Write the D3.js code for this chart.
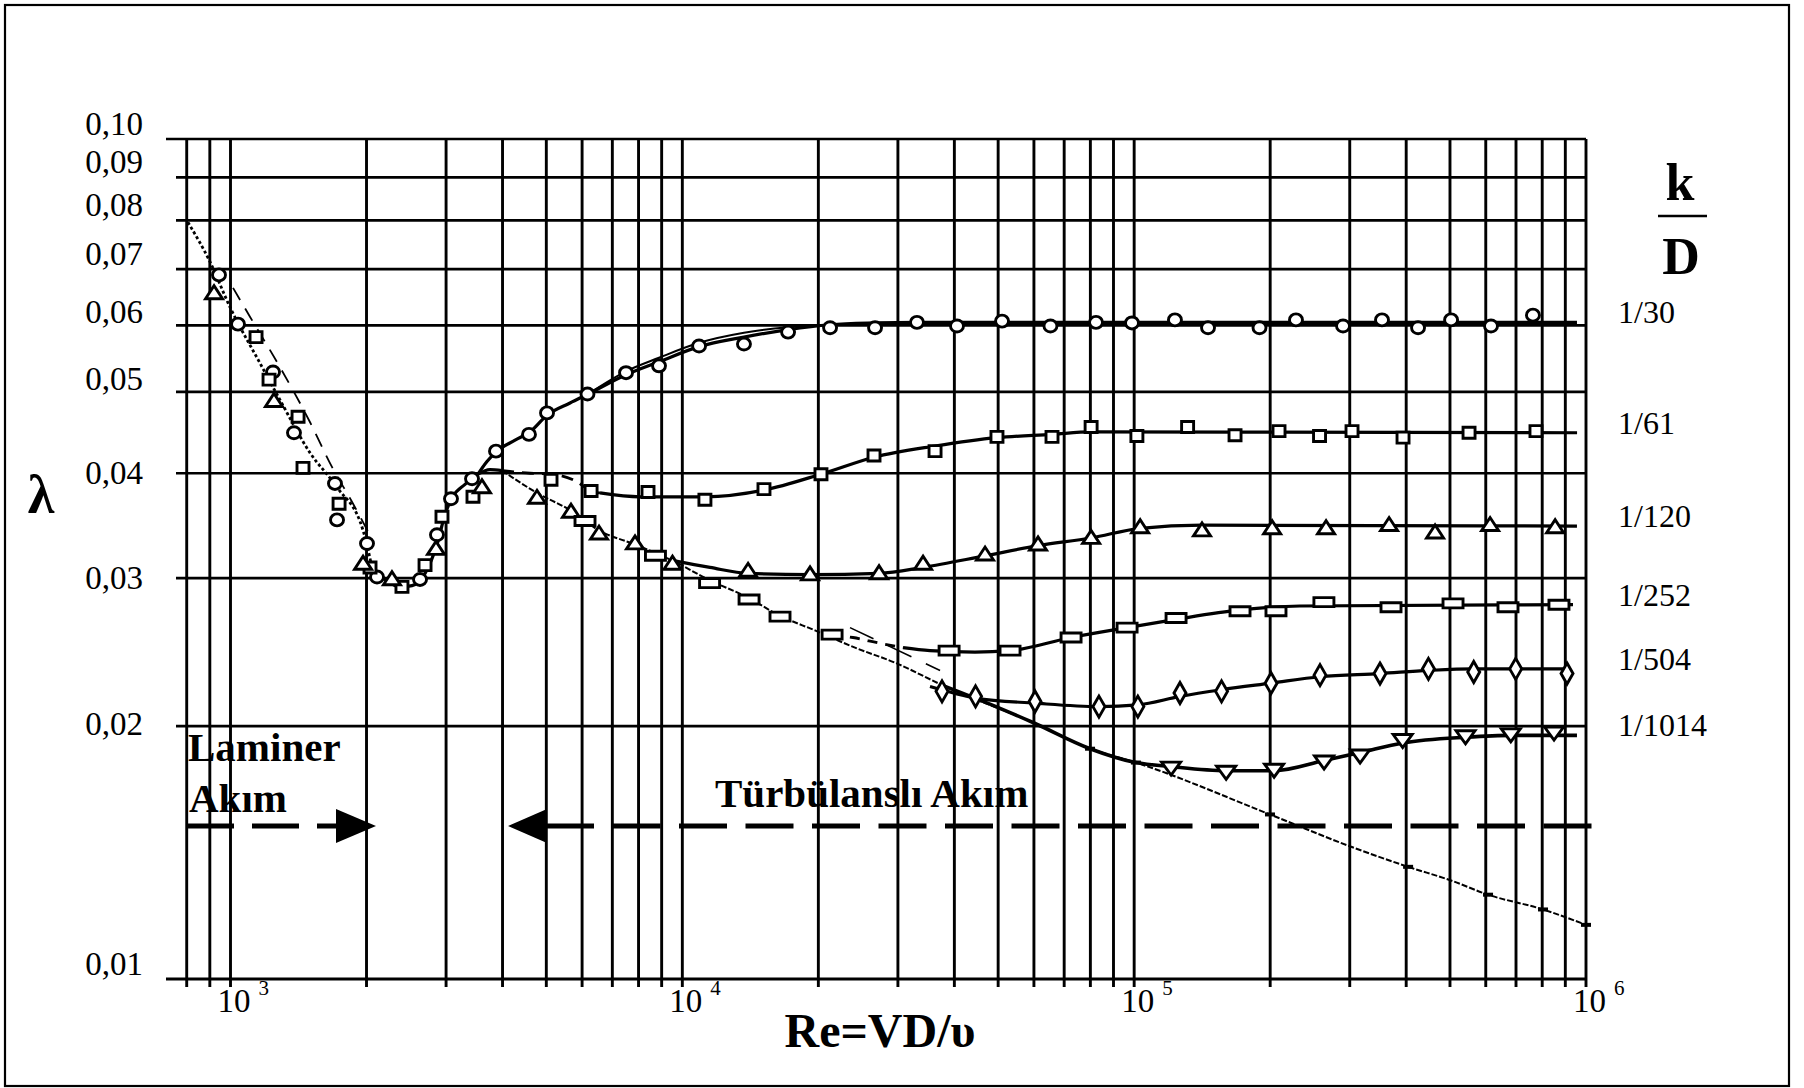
<!DOCTYPE html>
<html>
<head>
<meta charset="utf-8">
<script src="https://cdn.jsdelivr.net/npm/d3@7/dist/d3.min.js"></script>
<style>
  html, body { margin: 0; padding: 0; background: #fff; }
  svg { display: block; font-family: "Liberation Serif", "Times New Roman", serif; }
</style>
</head>
<body>
<svg id="chart" width="1804" height="1088"></svg>
<script>
// ---- data: [Re, lambda] ----
const yTickValues = [0.01, 0.02, 0.03, 0.04, 0.05, 0.06, 0.07, 0.08, 0.09, 0.10];
const yTickLabels = ["0,01", "0,02", "0,03", "0,04", "0,05", "0,06", "0,07", "0,08", "0,09", "0,10"];
const xTickValues = [1e3, 1e4, 1e5, 1e6];
const xTickExp = ["3", "4", "5", "6"];
const seriesNames = ["1/30", "1/61", "1/120", "1/252", "1/504", "1/1014"];

// laminar lines
const lamDotted = [[805,0.0796],[901,0.0714],[997,0.0631],[1162,0.0541],[1287,0.0489],[1500,0.0423],[1721,0.0385],[1965,0.0342],[2057,0.0309]];
const lamDashed = [[1013,0.0665],[1105,0.0614],[1287,0.0535],[1500,0.0460],[1677,0.0407],[1857,0.0370],[2015,0.0341]];
// transition (critical zone)
const transition = [[2057,0.0309],[2198,0.0299],[2372,0.0293],[2522,0.0294],[2695,0.0304],[2864,0.0329],[2983,0.0357],[3092,0.0374],[3304,0.0388],[3530,0.0399],[3752,0.0404],[3990,0.0403]];
// smooth pipe line
const smooth = [[3990,0.0403],[4768,0.0379],[5670,0.0361],[6540,0.0342],[7858,0.0329],[9490,0.0315],[11400,0.0299],[14050,0.0284],[16370,0.0271],[19660,0.0260],[24110,0.0248],[29560,0.0238],[38140,0.0223],[59720,0.0202],[79860,0.0188],[100900,0.0181],[199800,0.0157],[299000,0.0144],[403900,0.0136],[502800,0.0131],[607000,0.0126],[803300,0.0121],[1000000,0.0116]];
const smoothTicks = [[79860,0.0188],[100900,0.0181],[199800,0.0157],[403900,0.0136],[607000,0.0126],[803300,0.0121],[1000000,0.0116]];
const thinDash = [[23500,0.0262],[37190,0.0233]];

// k/D = 1/30
const curve30 = [[3530,0.0399],[3695,0.0413],[3889,0.0425],[4264,0.0438],[4601,0.0448],[5018,0.0469],[5642,0.0485],[6183,0.0497],[7506,0.0524],[8879,0.0543],[10890,0.0566],[13690,0.0581],[17140,0.0593],[21230,0.0601],[26700,0.0604],[33060,0.0605],[50480,0.0605],[955000,0.0605]];
const curve30b = [[6183,0.0497],[7506,0.0529],[8879,0.0549],[10890,0.0572],[13690,0.0588],[17140,0.0597],[21230,0.0601]];
const marks30 = [[943,0.0689],[1039,0.0602],[1242,0.0528],[1382,0.0447],[1703,0.0389],[1721,0.0352],[2005,0.0330],[2110,0.0301],[2627,0.0299],[2864,0.0338],[3076,0.0373],[3424,0.0394],[3869,0.0425],[4577,0.0445],[5018,0.0472],[6167,0.0497],[7506,0.0527],[8879,0.0537],[10890,0.0567],[13690,0.0570],[17140,0.0589],[21230,0.0596],[26700,0.0596],[33060,0.0605],[40540,0.0599],[51000,0.0607],[65270,0.0599],[82330,0.0605],[98900,0.0604],[123100,0.0609],[145700,0.0596],[189400,0.0596],[228100,0.0609],[289900,0.0599],[353600,0.0609],[424900,0.0596],[502800,0.0609],[616200,0.0599],[763100,0.0617]];

// k/D = 1/61
const curve61Dash = [[3990,0.0403],[4601,0.0400],[5148,0.0399],[5786,0.0392],[6281,0.0381],[6574,0.0379]];
const curve61 = [[6574,0.0379],[8058,0.0375],[11220,0.0375],[15160,0.0382],[20270,0.0399],[26560,0.0418],[36250,0.0431],[49700,0.0441],[65790,0.0445],[80300,0.0448],[955500,0.0447]];
const marks61 = [[1139,0.0581],[1217,0.0517],[1411,0.0467],[1447,0.0406],[1739,0.0368],[2036,0.0309],[2396,0.0293],[2695,0.0311],[2938,0.0355],[3441,0.0375],[5121,0.0393],[6281,0.0381],[8395,0.0380],[11220,0.0372],[15160,0.0383],[20270,0.0399],[26560,0.0420],[36250,0.0425],[49700,0.0442],[65790,0.0442],[80300,0.0454],[101400,0.0443],[131300,0.0454],[167200,0.0444],[209200,0.0449],[257200,0.0443],[303500,0.0449],[393600,0.0441],[551000,0.0447],[775000,0.0449]];

// k/D = 1/120
const curve120 = [[9490,0.0315],[11510,0.0309],[13980,0.0304],[19170,0.0303],[27250,0.0304],[34100,0.0309],[46770,0.0319],[61270,0.0328],[80300,0.0335],[103100,0.0344],[141300,0.0347],[955000,0.0346]];
const marks120 = [[919.5,0.0657],[1248,0.0489],[1965,0.0313],[2277,0.0300],[2850,0.0326],[3602,0.0386],[4768,0.0375],[5670,0.0361],[6540,0.0340],[7858,0.0331],[9511,0.0313],[13980,0.0307],[19170,0.0304],[27250,0.0305],[34100,0.0313],[46770,0.0321],[61270,0.0330],[80300,0.0336],[103100,0.0346],[141300,0.0343],[202000,0.0345],[265900,0.0345],[366600,0.0348],[463400,0.0341],[613400,0.0348],[854400,0.0346]];

// k/D = 1/252
const curve252Dash = [[21450,0.0257],[23860,0.0255],[27380,0.0251],[30790,0.0248]];
const curve252 = [[30790,0.0248],[35330,0.0246],[44430,0.0245],[53120,0.0246],[72500,0.0255],[96450,0.0262],[123800,0.0268],[171500,0.0275],[232600,0.0278],[935900,0.0279]];
const marks252 = [[6090,0.0351],[8720,0.0319],[11490,0.0296],[14050,0.0283],[16450,0.0270],[21450,0.0257],[38940,0.0246],[53120,0.0246],[72500,0.0255],[96450,0.0262],[123800,0.0269],[171500,0.0274],[206000,0.0274],[263000,0.0281],[370200,0.0277],[507800,0.0280],[672000,0.0277],[871300,0.0279]];

// k/D = 1/504
const curve504 = [[35330,0.0223],[44670,0.0216],[60330,0.0213],[83570,0.0211],[101900,0.0212],[126300,0.0217],[156200,0.0221],[200900,0.0225],[257800,0.0229],[350000,0.0231],[448000,0.0233],[564300,0.0234],[921700,0.0234]];
const marks504 = [[37560,0.0220],[44560,0.0217],[60330,0.0214],[83570,0.0211],[101900,0.0211],[126300,0.0219],[156100,0.0220],[200900,0.0225],[257800,0.0230],[350000,0.0231],[448000,0.0234],[564300,0.0232],[698900,0.0234],[907800,0.0231]];

// k/D = 1/1014
const curve1014 = [[38140,0.0223],[50480,0.0210],[59720,0.0202],[79860,0.0188],[100900,0.0181],[120700,0.0179],[159800,0.0177],[204000,0.0177],[263200,0.0182],[316200,0.0186],[393900,0.0191],[542000,0.0194],[683000,0.0195],[955000,0.0195]];
const marks1014 = [[120700,0.0178],[159800,0.0176],[204000,0.0177],[263200,0.0181],[316200,0.0184],[392900,0.0192],[541200,0.0194],[681700,0.0195],[849700,0.0196]];

// ---- layout ----
const svg = d3.select("#chart");
const plotL = 166, plotR = 1586, plotT = 139, plotB = 979;
const x = d3.scaleLog().domain([1000, 1e6]).range([230.5, 1586]);
const y = d3.scaleLog().domain([0.01, 0.1]).range([plotB, plotT]);
x.domain([x.invert(plotL), 1e6]).range([plotL, plotR]);

// frame
svg.append("rect")
  .attr("x", 5).attr("y", 5).attr("width", 1784).attr("height", 1081)
  .attr("fill", "none").attr("stroke", "#000").attr("stroke-width", 2.2);

// grid
const grid = svg.append("g").attr("stroke", "#000").attr("stroke-width", 2.9);
grid.selectAll("line.v")
  .data(x.ticks().filter(d => d >= 800))
  .enter().append("line")
  .attr("x1", d => x(d)).attr("x2", d => x(d))
  .attr("y1", plotT).attr("y2", plotB + 8);

grid.selectAll("line.h")
  .data(yTickValues)
  .enter().append("line")
  .attr("x1", d => (d === 0.01 || d === 0.1) ? plotL : plotL + 10)
  .attr("x2", plotR)
  .attr("y1", d => y(d)).attr("y2", d => y(d))
  .attr("stroke-width", d => d === 0.01 ? 3.2 : 2.7);

// y labels
const yLabelShift = { "0,06": -2, "0,05": -2, "0,04": 11, "0,03": 11, "0,02": 9 };
svg.append("g").selectAll("text")
  .data(yTickValues)
  .enter().append("text")
  .attr("x", 143)
  .attr("y", (d, i) => y(d) + (yLabelShift[yTickLabels[i]] !== undefined ? yLabelShift[yTickLabels[i]] : -4))
  .attr("text-anchor", "end")
  .attr("font-size", 33)
  .text((d, i) => yTickLabels[i]);

// x labels 10^n
const xl = svg.append("g").selectAll("text")
  .data(xTickValues)
  .enter().append("text")
  .attr("x", d => x(d) - 13)
  .attr("y", 1012)
  .attr("font-size", 33);
xl.append("tspan").text("10");
xl.append("tspan").attr("dx", 8).attr("dy", -17).attr("font-size", 21).text((d, i) => xTickExp[i]);

// curves
const line = d3.line().x(d => x(d[0])).y(d => y(d[1])).curve(d3.curveMonotoneX);
function path(data, width, dash) {
  svg.append("path")
    .datum(data)
    .attr("d", line)
    .attr("fill", "none")
    .attr("stroke", "#000")
    .attr("stroke-width", width)
    .attr("stroke-dasharray", dash || null);
}
path(lamDotted, 2.8, "3,2.5");
path(lamDashed, 1.8, "14,10");
path(smooth, 2, "6,2");
path(thinDash, 1.6, "26,16");
path(transition, 3.2);
path(curve30, 3.2);
path(curve30b, 2);
path(curve61Dash, 2.8, "12,8");
path(curve61, 3.2);
path(curve120, 3.2);
path(curve252Dash, 2.8, "10,8");
path(curve252, 3.2);
path(curve504, 3.2);
path(curve1014, 3.6);

// small tick marks on smooth line
svg.append("g").selectAll("rect")
  .data(smoothTicks)
  .enter().append("rect")
  .attr("x", d => x(d[0]) - 5).attr("y", d => y(d[1]) - 2)
  .attr("width", 10).attr("height", 4)
  .attr("fill", "#000");

// markers
const shapes = {
  circle: "M-6.5,0A6.5,6,0,1,0,6.5,0A6.5,6,0,1,0,-6.5,0Z",
  square: "M-6,-5.5H6V5.5H-6Z",
  tri: "M-8.5,6.5H8.5L0,-6.5Z",
  rect: "M-10,-4.5H10V4.5H-10Z",
  diamond: "M0,-10.5L6,0L0,10.5L-6,0Z",
  itri: "M-9.5,-6.5H9.5L0,6.5Z"
};
function marks(data, shape) {
  svg.append("g").selectAll("path")
    .data(data)
    .enter().append("path")
    .attr("d", shapes[shape])
    .attr("transform", d => `translate(${x(d[0])},${y(d[1])})`)
    .attr("fill", "#fff")
    .attr("stroke", "#000")
    .attr("stroke-width", 2.9);
}
marks(marks30, "circle");
marks(marks61, "square");
marks(marks120, "tri");
marks(marks252, "rect");
marks(marks504, "diamond");
marks(marks1014, "itri");

// series labels
const ends = [curve30, curve61, curve120, curve252, curve504, curve1014];
svg.append("g").selectAll("text")
  .data(seriesNames)
  .enter().append("text")
  .attr("x", 1618)
  .attr("y", (d, i) => y(ends[i][ends[i].length - 1][1]) + 1)
  .attr("font-size", 32)
  .text(d => d);

// k / D
svg.append("text").attr("x", 1680).attr("y", 200).attr("text-anchor", "middle")
  .attr("font-size", 52).attr("font-weight", "bold").text("k");
svg.append("line").attr("x1", 1658).attr("x2", 1707).attr("y1", 216).attr("y2", 216)
  .attr("stroke", "#000").attr("stroke-width", 2.6);
svg.append("text").attr("x", 1681).attr("y", 274).attr("text-anchor", "middle")
  .attr("font-size", 52).attr("font-weight", "bold").text("D");

// axis titles
svg.append("text").attr("x", 41).attr("y", 513).attr("text-anchor", "middle")
  .attr("font-size", 54).attr("font-weight", "bold").text("λ");
svg.append("text").attr("x", 880).attr("y", 1047).attr("text-anchor", "middle")
  .attr("font-size", 48).attr("font-weight", "bold").text("Re=VD/υ");

// flow regime labels and arrows
svg.append("text").attr("x", 188).attr("y", 761)
  .attr("font-size", 41).attr("font-weight", "bold").text("Laminer");
svg.append("text").attr("x", 189).attr("y", 812)
  .attr("font-size", 41).attr("font-weight", "bold").text("Akım");
svg.append("text").attr("x", 715).attr("y", 807)
  .attr("font-size", 41).attr("font-weight", "bold").text("Türbülanslı Akım");

const ay = 826;
svg.append("line").attr("x1", 187).attr("x2", 337).attr("y1", ay).attr("y2", ay)
  .attr("stroke", "#000").attr("stroke-width", 5).attr("stroke-dasharray", "47,18");
svg.append("path").attr("d", `M336,${ay - 17}L376,${ay}L336,${ay + 17}Z`).attr("fill", "#000");
svg.append("line").attr("x1", 546).attr("x2", 1592).attr("y1", ay).attr("y2", ay)
  .attr("stroke", "#000").attr("stroke-width", 5).attr("stroke-dasharray", "48,18.5");
svg.append("path").attr("d", `M547,${ay - 17}L508,${ay}L547,${ay + 17}Z`).attr("fill", "#000");
</script>
</body>
</html>
